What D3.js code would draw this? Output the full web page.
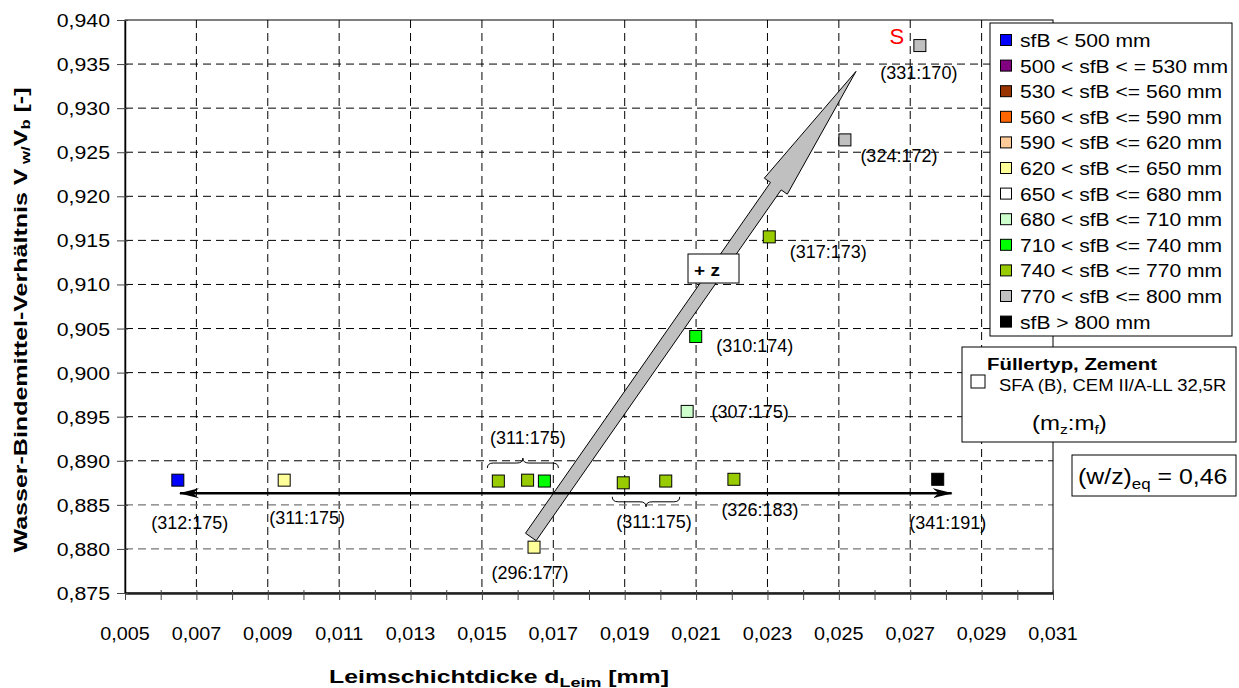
<!DOCTYPE html>
<html>
<head>
<meta charset="utf-8">
<script src="https://cdn.jsdelivr.net/npm/d3@7"></script>
<style>
body { margin: 0; background: #fff; }
text { font-family: "Liberation Sans", Arial, sans-serif; fill: #000; }
</style>
</head>
<body>
<div id="chart"></div>
<script>
// # Data.
const legendLabels = [
    'sfB < 500 mm', '500 < sfB < = 530 mm', '530 < sfB <= 560 mm', '560 < sfB <= 590 mm',
    '590 < sfB <= 620 mm', '620 < sfB <= 650 mm', '650 < sfB <= 680 mm', '680 < sfB <= 710 mm',
    '710 < sfB <= 740 mm', '740 < sfB <= 770 mm', '770 < sfB <= 800 mm', 'sfB > 800 mm'
]
const legendColors = [
    '#0000ff', '#800080', '#993300', '#ff6600', '#ffcc99', '#ffff99',
    '#ffffff', '#ccffcc', '#00ff00', '#99cc00', '#c0c0c0', '#000000'
]
const pointX = [0.00648, 0.00946, 0.01546, 0.01628, 0.01675, 0.01896, 0.02015, 0.02206,
                0.01646, 0.02777, 0.02075, 0.02099, 0.02305, 0.02517, 0.02727]
const pointY = [0.8878, 0.8878, 0.8877, 0.8878, 0.8877, 0.8875, 0.8877, 0.8879,
                0.8802, 0.8879, 0.8956, 0.9041, 0.9154, 0.9264, 0.9371]
const pointClass = [0, 5, 9, 9, 8, 9, 9, 9, 5, 11, 7, 8, 9, 10, 10]
const pointLabels = ['(312:175)', '(311:175)', '', '', '', '', '', '(326:183)',
                     '(296:177)', '(341:191)', '(307:175)', '(310:174)', '(317:173)', '(324:172)', '(331:170)']
const groupLabels = ['(311:175)', '(311:175)']
const groupFrom = [2, 5]   // first point index under the brace
const groupTo = [4, 6]     // last point index under the brace
const xTickLabels = d3.range(5, 32, 2).map(v => v / 1000)
const xMinorTicks = d3.range(5, 32, 1).map(v => v / 1000)
const yTickLabels = d3.range(875, 941, 5).map(v => v / 1000)
// trend arrows (data units)
const zArrow = {x1: 0.01637, y1: 0.88136, x2: 0.02548, y2: 0.93417}
const flatArrow = {x1: 0.02816, x2: 0.00654, y: 0.88632}

// # Layout.
const width = 1239, height = 688
const plot = {left: 125, right: 1053, top: 20, bottom: 593}
const labelOffsets = [[12, 49], [23, 44], null, null, null, null, null, [26, 37],
                      [-4, 32], [10, 50], [63, 7], [59, 16], [59, 21], [54, 22], [-1, 33]]

const fmt = v => d3.format('.3f')(v).replace('.', ',')

// # Text placed at (x, y), stretched horizontally by sx (the source font runs wide).
function place(sel, x, y, sx, rot) {
    return sel.attr('transform', `translate(${x},${y})` + (rot ? ` rotate(${rot})` : '') + ` scale(${sx},1)`)
}

let svg = d3.select('#chart')
    .append('svg')
    .attr('width', width)
    .attr('height', height)
svg.append('rect')
    .attr('width', width)
    .attr('height', height)
    .attr('fill', '#fff')

let x = d3.scaleLinear().domain([0.005, 0.031]).range([plot.left, plot.right])
let y = d3.scaleLinear().domain([0.875, 0.940]).range([plot.bottom, plot.top])

// # Grid.
let grid = svg.append('g').attr('class', 'grid')
grid.selectAll('line.v')
    .data(xTickLabels.slice(1, -1))
    .enter().append('line')
    .attr('x1', d => x(d)).attr('x2', d => x(d))
    .attr('y1', plot.top).attr('y2', plot.bottom)
    .attr('stroke', '#000').attr('stroke-width', 1)
    .attr('stroke-dasharray', '8,5')
grid.selectAll('line.h')
    .data(yTickLabels.slice(1, -1))
    .enter().append('line')
    .attr('x1', plot.left).attr('x2', plot.right)
    .attr('y1', d => y(d)).attr('y2', d => y(d))
    .attr('stroke', d => d < 0.8875 ? '#777' : '#000')
    .attr('stroke-width', d => d < 0.8875 ? 1.4 : 1)
    .attr('stroke-dasharray', '8,5')

// plot frame
svg.append('rect')
    .attr('x', plot.left).attr('y', plot.top)
    .attr('width', plot.right - plot.left).attr('height', plot.bottom - plot.top)
    .attr('fill', 'none').attr('stroke', '#000').attr('stroke-width', 1)

// # Axes.
let xAxis = svg.append('g')
    .attr('transform', `translate(0,${plot.bottom})`)
    .call(d3.axisBottom(x).tickValues(xMinorTicks).tickFormat('').tickSizeOuter(0).tickSizeInner(7))
xAxis.select('.domain').attr('stroke', '#222').attr('stroke-width', 2.5)
xAxis.selectAll('.tick line').attr('y1', -3).attr('stroke', '#444')
svg.append('g').selectAll('text')
    .data(xTickLabels)
    .enter().append('text')
    .each(function(d) { place(d3.select(this), x(d), 640, 1.1) })
    .attr('text-anchor', 'middle')
    .style('font-size', '18px')
    .text(fmt)

let yAxis = svg.append('g')
    .attr('transform', `translate(${plot.left},0)`)
    .call(d3.axisLeft(y).tickValues(yTickLabels).tickFormat('').tickSizeOuter(0).tickSizeInner(8))
yAxis.select('.domain').attr('stroke', '#000').attr('stroke-width', 1.5)
yAxis.selectAll('.tick line').attr('x1', 3).attr('stroke', '#444')
svg.append('g').selectAll('text')
    .data(yTickLabels)
    .enter().append('text')
    .each(function(d) { place(d3.select(this), 110, y(d) + 7, 1.12) })
    .attr('text-anchor', 'end')
    .style('font-size', '19px')
    .text(fmt)

// axis titles
let xt = svg.append('text')
    .attr('text-anchor', 'middle')
    .style('font-size', '18px').style('font-weight', 'bold')
place(xt, 499, 683, 1.38)
xt.append('tspan').text('Leimschichtdicke d')
xt.append('tspan').text('Leim').style('font-size', '13px').attr('dy', 4)
xt.append('tspan').text(' [mm]').attr('dy', -4)

let yt = svg.append('text')
    .attr('text-anchor', 'middle')
    .style('font-size', '18px').style('font-weight', 'bold')
place(yt, 27, 320, 1.39, -90)
yt.append('tspan').text('Wasser-Bindemittel-Verhältnis  V')
yt.append('tspan').text(' w/').style('font-size', '12px').attr('dy', 3)
yt.append('tspan').text('V').attr('dy', -3)
yt.append('tspan').text('b').style('font-size', '12px').attr('dy', 3)
yt.append('tspan').text(' [-]').attr('dy', -3)

// # Big grey "+z" arrow.
function blockArrow(x1, y1, x2, y2, shaft, head, headLen) {
    let dx = x2 - x1, dy = y2 - y1
    let len = Math.hypot(dx, dy)
    let ux = dx / len, uy = dy / len
    let px = -uy, py = ux
    let bx = x2 - ux * headLen, by = y2 - uy * headLen
    let pts = [
        [x1 + px * shaft, y1 + py * shaft],
        [bx + px * shaft, by + py * shaft],
        [bx + px * head, by + py * head],
        [x2, y2],
        [bx - px * head, by - py * head],
        [bx - px * shaft, by - py * shaft],
        [x1 - px * shaft, y1 - py * shaft]
    ]
    return 'M' + pts.map(p => p.join(',')).join('L') + 'Z'
}
svg.append('path')
    .attr('d', blockArrow(x(zArrow.x1), y(zArrow.y1), x(zArrow.x2), y(zArrow.y2), 6.5, 14, 140))
    .attr('fill', '#c0c0c0').attr('stroke', '#000').attr('stroke-width', 1)

// # Horizontal double-headed arrow.
let defs = svg.append('defs')
defs.append('marker')
    .attr('id', 'stealth')
    .attr('viewBox', '0 0 20 12')
    .attr('refX', 19).attr('refY', 6)
    .attr('markerWidth', 20).attr('markerHeight', 12)
    .attr('markerUnits', 'userSpaceOnUse')
    .attr('orient', 'auto-start-reverse')
    .append('path')
    .attr('d', 'M0,1 L20,6 L0,11 L6,6 Z')
    .attr('fill', '#000')
svg.append('line')
    .attr('x1', x(flatArrow.x1)).attr('x2', x(flatArrow.x2))
    .attr('y1', y(flatArrow.y)).attr('y2', y(flatArrow.y))
    .attr('stroke', '#000').attr('stroke-width', 2.5)
    .attr('marker-start', 'url(#stealth)')
    .attr('marker-end', 'url(#stealth)')

// "+ z" label box
svg.append('rect')
    .attr('x', 688).attr('y', 254).attr('width', 51).attr('height', 29)
    .attr('fill', '#fff').attr('stroke', '#000').attr('stroke-width', 1)
place(svg.append('text'), 694, 276, 1.12)
    .style('font-size', '17px').style('font-weight', 'bold')
    .text('+ z')

// # Points.
svg.append('g').selectAll('rect')
    .data(pointX.map((v, i) => i))
    .enter().append('rect')
    .attr('x', i => x(pointX[i]) - 6)
    .attr('y', i => y(pointY[i]) - 6)
    .attr('width', 12).attr('height', 12)
    .attr('fill', i => legendColors[pointClass[i]])
    .attr('stroke', '#000').attr('stroke-width', 1)

// point labels
svg.append('g').selectAll('text')
    .data(pointX.map((v, i) => i).filter(i => pointLabels[i] !== ''))
    .enter().append('text')
    .attr('x', i => x(pointX[i]) + labelOffsets[i][0])
    .attr('y', i => y(pointY[i]) + labelOffsets[i][1])
    .attr('text-anchor', 'middle')
    .style('font-size', '18px')
    .text(i => pointLabels[i])

// # Braces over grouped points.
function brace(x1, x2, yb, s, h) {
    let xm = (x1 + x2) / 2, ym = yb + s * h / 2, yt = yb + s * h, r = 6
    return `M${x1},${yb} Q${x1},${ym} ${x1 + r},${ym} L${xm - r},${ym} Q${xm},${ym} ${xm},${yt}` +
           ` Q${xm},${ym} ${xm + r},${ym} L${x2 - r},${ym} Q${x2},${ym} ${x2},${yb}`
}
groupLabels.forEach((lab, g) => {
    let xa = x(pointX[groupFrom[g]]) - 11, xb = x(pointX[groupTo[g]]) + 14
    let above = g === 0
    let yp = y(pointY[groupFrom[g]])
    let yb = above ? yp - 13 : yp + 14
    svg.append('path')
        .attr('d', brace(xa, xb, yb, above ? -1 : 1, 10))
        .attr('fill', 'none').attr('stroke', '#000').attr('stroke-width', 1)
    svg.append('text')
        .attr('x', (xa + xb) / 2 + (above ? 5 : 8))
        .attr('y', above ? yb - 24 : yb + 31)
        .attr('text-anchor', 'middle')
        .style('font-size', '18px')
        .text(lab)
})

// red "S"
svg.append('text')
    .attr('x', x(pointX[14]) - 23).attr('y', y(pointY[14]) - 2)
    .attr('text-anchor', 'middle')
    .style('font-size', '22px').style('fill', '#ff0000')
    .text('S')

// # Legend.
let legend = svg.append('g')
legend.append('rect')
    .attr('x', 990).attr('y', 23).attr('width', 242).attr('height', 313)
    .attr('fill', '#fff').attr('stroke', '#000').attr('stroke-width', 1)
let items = legend.selectAll('g.item')
    .data(legendLabels)
    .enter().append('g')
    .attr('transform', (d, i) => `translate(1000,${40 + i * 25.6})`)
items.append('rect')
    .attr('x', 0.5).attr('y', -5.5).attr('width', 11).attr('height', 11)
    .attr('fill', (d, i) => legendColors[i])
    .attr('stroke', '#000').attr('stroke-width', 1)
items.append('text')
    .attr('transform', 'translate(20,7) scale(1.11,1)')
    .style('font-size', '19px')
    .text(d => d)

// filler / cement box
let fb = svg.append('g')
fb.append('rect')
    .attr('x', 962).attr('y', 347).attr('width', 274).attr('height', 95)
    .attr('fill', '#fff').attr('stroke', '#000').attr('stroke-width', 1)
place(fb.append('text'), 987, 370, 1.2)
    .style('font-size', '17px').style('font-weight', 'bold')
    .text('Füllertyp, Zement')
fb.append('rect')
    .attr('x', 971).attr('y', 375).attr('width', 14).attr('height', 13)
    .attr('fill', '#fff').attr('stroke', '#000').attr('stroke-width', 1)
place(fb.append('text'), 999, 391, 1.15)
    .style('font-size', '16px')
    .text('SFA (B), CEM II/A-LL 32,5R')
let mz = place(fb.append('text'), 1032, 430, 1.2)
    .style('font-size', '20px')
mz.append('tspan').text('(m')
mz.append('tspan').text('z').style('font-size', '13px').attr('dy', 4)
mz.append('tspan').text(':m').attr('dy', -4)
mz.append('tspan').text('f').style('font-size', '13px').attr('dy', 4)
mz.append('tspan').text(')').attr('dy', -4)

// w/z box
let wz = svg.append('g')
wz.append('rect')
    .attr('x', 1072).attr('y', 455).attr('width', 164).attr('height', 41)
    .attr('fill', '#fff').attr('stroke', '#000').attr('stroke-width', 1)
let wzt = place(wz.append('text'), 1078, 484, 1.13)
    .style('font-size', '22px')
wzt.append('tspan').text('(w/z)')
wzt.append('tspan').text('eq').style('font-size', '15px').attr('dy', 5)
wzt.append('tspan').text(' = 0,46').attr('dy', -5)
</script>
</body>
</html>
